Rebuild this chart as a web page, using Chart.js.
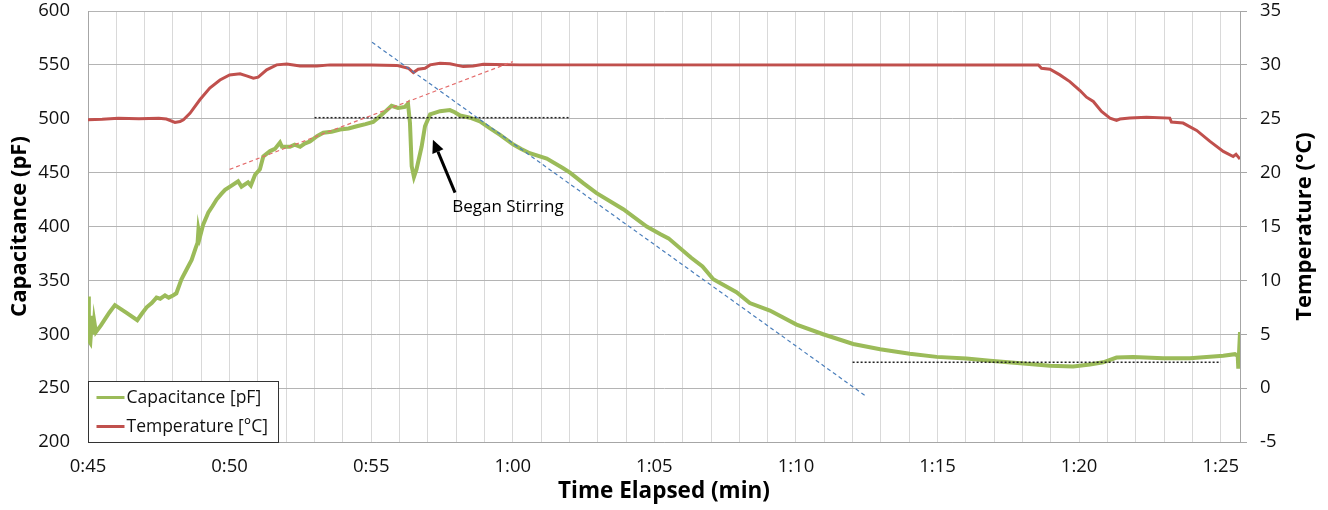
<!DOCTYPE html>
<html>
<head>
<meta charset="utf-8">
<script src="https://cdn.jsdelivr.net/npm/chart.js@4.4.1/dist/chart.umd.min.js"></script>
<style>
  html, body { margin: 0; padding: 0; background: #fff; }
  #wrap { width: 1328px; height: 510px; }
</style>
</head>
<body>
<div id="wrap"><canvas id="chart" width="1328" height="510"></canvas></div>
<script>
// elapsed time in minutes (0:45 = 45)
var capTime = [45.00, 45.03, 45.08, 45.15, 45.19, 45.22, 45.28, 45.45, 45.6, 45.75, 45.95, 46.35, 46.74, 46.9, 47.07,
  47.25, 47.42, 47.55, 47.72, 47.85, 48.0, 48.12, 48.3, 48.5, 48.66, 48.8, 48.87, 48.9, 48.95, 49.07, 49.25, 49.4,
  49.54, 49.7, 49.84, 50.07, 50.3, 50.42, 50.65, 50.75, 50.9, 51.07, 51.19, 51.43, 51.6, 51.78, 51.85, 52.13, 52.3,
  52.49, 52.65, 52.84, 53.1, 53.31, 53.6, 53.9, 54.2, 54.49, 54.8, 55.07, 55.25, 55.43, 55.72, 55.95, 56.19, 56.3,
  56.37, 56.43, 56.51, 56.6, 56.78, 56.9, 57.08, 57.43, 57.78, 57.95, 58.14, 58.49, 58.84, 59.2, 59.55, 60.02, 60.3,
  60.6, 61.2, 61.78, 62.02, 62.5, 62.96, 63.9, 64.73, 65.2, 65.5, 66.3, 66.7, 67.08, 67.9, 68.37, 69.08, 70.02,
  70.96, 72.02, 72.97, 74.02, 74.97, 76.02, 76.85, 78.03, 78.97, 79.79, 80.38, 80.85, 81.32, 81.91, 82.97, 83.91,
  85.09, 85.5, 85.6, 85.62, 85.68];
var capValues = [335, 294, 292, 317, 300, 312, 302, 308, 314, 320, 327, 320, 313, 319, 325,
  329, 334, 333, 336, 334, 336, 338, 351, 361, 369, 380, 385, 397, 390, 402, 413, 419,
  425, 430, 434, 438, 442, 437, 441, 438, 448, 453, 465, 470, 472, 478, 474, 474, 476,
  474, 477, 479, 484, 487, 488, 490, 491, 493, 495, 497, 501, 505, 512, 510, 511, 514,
  496, 456, 446, 453, 474, 493, 504, 507, 508, 506, 503, 501, 497.5, 491, 485, 476, 472,
  468, 463, 454, 450, 440, 431, 416, 400, 393, 389, 371, 363, 351, 339, 329, 322, 309,
  300, 291, 286, 282, 279, 277.5, 275.3, 272.8, 270.7, 270, 272, 274, 278.4, 279, 277.8, 277.8,
  280, 281.5, 280, 268, 302];

var tempTime = [45.0, 45.5, 46.07, 46.8, 47.5, 47.77, 48.07, 48.25, 48.37, 48.6, 48.95, 49.3, 49.66, 50.0, 50.37,
  50.6, 50.84, 51.01, 51.31, 51.66, 52.02, 52.49, 53.08, 53.55, 55.0, 55.9, 56.31, 56.49, 56.66, 56.9, 57.08,
  57.43, 57.78, 58.25, 58.6, 58.96, 60.25, 78.56, 78.67, 78.97, 79.32, 79.67, 80.03, 80.26, 80.5, 80.79, 81.09,
  81.32, 81.44, 81.79, 82.38, 83.2, 83.26, 83.67, 84.15, 84.62, 85.09, 85.44, 85.54, 85.68];
var tempValues = [24.9, 24.95, 25.05, 25.0, 25.05, 24.97, 24.66, 24.75, 24.9, 25.5, 26.76, 27.84, 28.6, 29.07, 29.17,
  28.98, 28.77, 28.86, 29.54, 30.0, 30.09, 29.9, 29.9, 30.0, 30.0, 29.95, 29.69, 29.29, 29.6, 29.69, 30.0,
  30.16, 30.1, 29.84, 29.9, 30.06, 30.0, 30.0, 29.69, 29.6, 29.07, 28.45, 27.62, 27.0, 26.6, 25.68, 25.06,
  24.84, 24.97, 25.06, 25.15, 25.06, 24.69, 24.6, 23.92, 22.9, 21.97, 21.5, 21.7, 21.27];

// hand drawn guide lines (capacitance units)
var heatTrendX = [50, 60];
var heatTrendY = [453, 553];
var coolTrendX = [55.03, 72.5];
var coolTrendY = [571, 242];
var highLevelX = [53, 62];
var highLevelY = [501, 501];
var lowLevelX = [72, 85];
var lowLevelY = [274, 274];

// annotation: arrow tail/head and label
var arrowX = [57.96, 57.18];
var arrowY = [431.5, 480.6];
var noteText = 'Began Stirring';
var noteX = 59.83;
var noteY = 417.6;

var xMin = 45, xMax = 85.68;
var capTicks = [200, 600, 50];
var tempTicks = [-5, 35, 5];

function pairs(xs, ys) {
  var out = [];
  for (var i = 0; i < xs.length; i++) out.push({ x: xs[i], y: ys[i] });
  return out;
}

function fmtTime(v) {
  var h = Math.floor(v / 60), m = v % 60;
  return h + ':' + (m < 10 ? '0' : '') + m;
}

var FONT = "'Open Sans', 'DejaVu Sans', sans-serif";

function guide(xs, ys, color, dash, width) {
  return {
    data: pairs(xs, ys), borderColor: color, borderWidth: width, borderDash: dash,
    pointRadius: 0, fill: false, yAxisID: 'y', inLegend: false
  };
}

// keep the plot top at the layout padding, tick labels may overhang
function sideFit(s) {
  s.width = 88;
  s.paddingTop = 0;
  s.paddingBottom = 0;
}

var extras = {
  id: 'extras',
  afterDraw: function (chart) {
    var ctx = chart.ctx, a = chart.chartArea;
    var sx = chart.scales.x, sy = chart.scales.y;
    ctx.save();

    // arrow
    var x1 = sx.getPixelForValue(arrowX[0]), y1 = sy.getPixelForValue(arrowY[0]);
    var x2 = sx.getPixelForValue(arrowX[1]), y2 = sy.getPixelForValue(arrowY[1]);
    var ang = Math.atan2(y2 - y1, x2 - x1);
    var hl = 13, hw = 6;
    var bx = x2 - hl * Math.cos(ang), by = y2 - hl * Math.sin(ang);
    ctx.strokeStyle = '#000';
    ctx.fillStyle = '#000';
    ctx.lineWidth = 3;
    ctx.beginPath();
    ctx.moveTo(x1, y1);
    ctx.lineTo(bx, by);
    ctx.stroke();
    ctx.beginPath();
    ctx.moveTo(x2, y2);
    ctx.lineTo(bx + hw * Math.sin(ang), by - hw * Math.cos(ang));
    ctx.lineTo(bx - hw * Math.sin(ang), by + hw * Math.cos(ang));
    ctx.closePath();
    ctx.fill();

    ctx.font = '17px ' + FONT;
    ctx.textAlign = 'center';
    ctx.textBaseline = 'middle';
    ctx.fillText(noteText, sx.getPixelForValue(noteX), sy.getPixelForValue(noteY));

    // legend box, bottom-left inside the plot
    var items = chart.data.datasets.filter(function (d) { return d.inLegend; });
    var lx = Math.round(a.left) + 0.5, lw = 190, lh = 61;
    var ly = Math.round(a.bottom) - lh + 0.5;
    ctx.fillStyle = '#fff';
    ctx.fillRect(lx, ly, lw, lh);
    ctx.strokeStyle = '#333';
    ctx.lineWidth = 1;
    ctx.strokeRect(lx, ly, lw, lh);
    ctx.font = '17.5px ' + FONT;
    ctx.textAlign = 'left';
    items.forEach(function (d, i) {
      var cy = ly + 16 + i * 29;
      ctx.strokeStyle = d.borderColor;
      ctx.lineWidth = 3;
      ctx.beginPath();
      ctx.moveTo(lx + 8, cy);
      ctx.lineTo(lx + 36, cy);
      ctx.stroke();
      ctx.fillStyle = '#111';
      ctx.fillText(d.label, lx + 38, cy + 1);
    });

    // right axis title, reads bottom to top
    ctx.font = 'bold 22px ' + FONT;
    ctx.fillStyle = '#000';
    ctx.textAlign = 'center';
    ctx.translate(1305, (a.top + a.bottom) / 2);
    ctx.rotate(-Math.PI / 2);
    ctx.fillText('Temperature (°C)', 0, 0);
    ctx.restore();
  }
};

new Chart(document.getElementById('chart'), {
  type: 'line',
  data: {
    datasets: [
      guide(coolTrendX, coolTrendY, '#4a7ebb', [4, 3], 1.2),
      guide(heatTrendX, heatTrendY, '#e46c6c', [4, 3], 1.2),
      guide(highLevelX, highLevelY, '#222', [2, 2], 1.5),
      guide(lowLevelX, lowLevelY, '#222', [2, 2], 1.5),
      {
        label: 'Capacitance [pF]', data: pairs(capTime, capValues), yAxisID: 'y',
        borderColor: '#9bbb59', borderWidth: 4, pointRadius: 0, tension: 0, inLegend: true
      },
      {
        label: 'Temperature [°C]', data: pairs(tempTime, tempValues), yAxisID: 'y1',
        borderColor: '#c0504d', borderWidth: 3, pointRadius: 0, tension: 0, inLegend: true
      }
    ]
  },
  options: {
    responsive: false,
    animation: false,
    layout: { padding: { top: 11 } },
    plugins: { legend: { display: false }, tooltip: { enabled: false } },
    scales: {
      x: {
        type: 'linear', min: xMin, max: xMax, bounds: 'data',
        afterFit: function (s) { s.height = 68; },
        grid: { color: '#d9d9d9', drawTicks: false },
        border: { color: '#a6a6a6' },
        ticks: {
          stepSize: 1, autoSkip: false, includeBounds: false, maxRotation: 0, padding: 14,
          color: '#111', font: { family: FONT, size: 18.5 },
          callback: function (v) { return v % 5 === 0 ? fmtTime(v) : ''; }
        },
        title: {
          display: true, text: 'Time Elapsed (min)', color: '#000',
          font: { family: FONT, size: 22.5, weight: 'bold' }, padding: { top: 0, bottom: 5 }
        }
      },
      y: {
        position: 'left', min: capTicks[0], max: capTicks[1],
        afterFit: sideFit,
        grid: { color: '#b4b4b4', drawTicks: false },
        border: { color: '#a6a6a6' },
        ticks: { stepSize: capTicks[2], padding: 18, color: '#111', font: { family: FONT, size: 18.5 } },
        title: {
          display: true, text: 'Capacitance (pF)', color: '#000',
          font: { family: FONT, size: 22, weight: 'bold' }, padding: { top: 7, bottom: 0 }
        }
      },
      y1: {
        position: 'right', min: tempTicks[0], max: tempTicks[1],
        afterFit: sideFit,
        grid: { drawOnChartArea: false, drawTicks: true, tickLength: 7, tickColor: '#a6a6a6' },
        border: { color: '#a6a6a6' },
        ticks: { stepSize: tempTicks[2], padding: 13, color: '#111', font: { family: FONT, size: 18.5 } }
      }
    }
  },
  plugins: [extras]
});
</script>
</body>
</html>
